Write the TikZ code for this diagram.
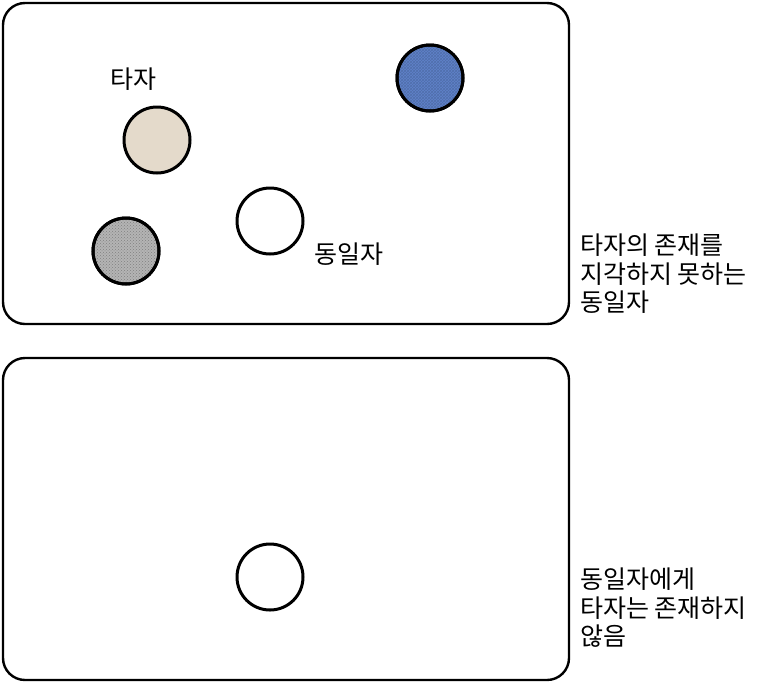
\documentclass[tikz,border=0pt]{standalone}
\usepackage{fontspec}
\setmainfont{Noto Sans CJK KR}
\usetikzlibrary{positioning,patterns}

\definecolor{tancol}{HTML}{E4DACB}
\definecolor{bluecol}{HTML}{5F82C9}
\definecolor{graycol}{HTML}{B4B4B4}

\tikzset{
  panel/.style={draw, line width=2.4pt, rounded corners=22pt},
  person/.style={circle, draw, line width=3pt, minimum size=66pt, inner sep=0pt},
  label/.style={font=\fontsize{25}{28.5}\selectfont, inner sep=0pt},
  note/.style={font=\fontsize{25}{28.5}\selectfont, align=left, anchor=west, inner sep=0pt}
}

\begin{document}
\begin{tikzpicture}[x=1pt,y=-1pt]
    \useasboundingbox (0,0) rectangle (775,683);

    % Draw the two panels
    \draw[panel] (3,3) rectangle (569,324);
    \draw[panel] (3,358) rectangle (569,680);

    % Upper panel: the others and the self
    \foreach \n/\x/\y/\c in {tan/157/140/tancol, blue/430/78/bluecol, gray/126/251/graycol, self/270/221/white} {
      \node[person, fill=\c] (\n) at (\x,\y) {};
    }
    % Texture on two of the others
    \fill[pattern=crosshatch, pattern color=bluecol!60!black, opacity=0.35] (blue) circle (31pt);
    \fill[pattern=crosshatch dots, pattern color=gray!60!black, opacity=0.5] (gray) circle (31pt);
    \draw[line width=3pt] (blue) circle (33pt) (gray) circle (33pt);

    \node[label, above=15pt of tan, xshift=-24pt] (others) {타자};
    \node[label, below right=-3pt and 20pt of self] (selflabel) {동일자};

    % Lower panel: only the self
    \node[person, fill=white] (selfalone) at (270,577) {};

    % Captions beside the panels
    \node[note] (upnote) at (580,274) {타자의 존재를\\지각하지 못하는\\동일자};
    \node[note] (downnote) at (580,608) {동일자에게\\타자는 존재하지\\않음};
\end{tikzpicture}
\end{document}
